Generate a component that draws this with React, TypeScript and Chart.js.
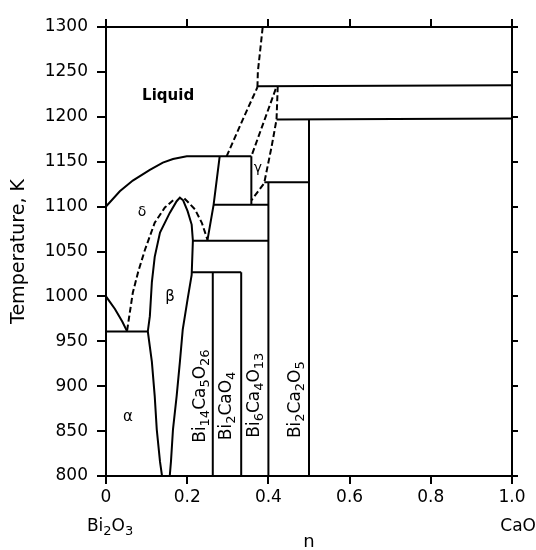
import { useEffect, useRef } from "react";
import { Chart, registerables } from "chart.js";

Chart.register(...registerables);

type P = [number, number];

// Axis ticks
const xTickValues = [0, 0.2, 0.4, 0.6, 0.8, 1.0];
const xTickLabels = ["0", "0.2", "0.4", "0.6", "0.8", "1.0"];
const yTickValues = [800, 850, 900, 950, 1000, 1050, 1100, 1150, 1200, 1250, 1300];

// Phase boundaries (n, T in K)
const liquidusLeft: P[] = [[0, 1100], [0.034, 1117], [0.066, 1129], [0.108, 1141], [0.14, 1149], [0.165, 1153], [0.199, 1156], [0.27, 1156], [0.358, 1156]];
const liquidusRight: P[] = [[0.297, 1156], [0.335, 1195], [0.373, 1233]];
const topBoundary: P[] = [[0.373, 1233], [0.374, 1250], [0.386, 1300]];
const line1234: P[] = [[0.373, 1234], [1.0, 1235]];
const gammaLeft: P[] = [[0.418, 1231], [0.358, 1156]];
const gammaRight: P[] = [[0.423, 1234], [0.42, 1197], [0.408, 1167], [0.39, 1127]];
const gammaLower: P[] = [[0.388, 1125], [0.358, 1107]];
const line1197: P[] = [[0.42, 1197], [1.0, 1198]];
const bi2ca2o5: P[] = [[0.5, 1197], [0.5, 800]];
const line1127: P[] = [[0.39, 1127], [0.5, 1127]];
const bi6ca4o13: P[] = [[0.4, 1127], [0.4, 800]];
const boxLeft: P[] = [[0.25, 1063], [0.265, 1102], [0.28, 1156]];
const boxRight: P[] = [[0.358, 1156], [0.358, 1102]];
const line1102: P[] = [[0.265, 1102], [0.4, 1102]];
const line1062: P[] = [[0.213, 1062], [0.4, 1062]];
const line1027: P[] = [[0.211, 1027], [0.333, 1027]];
const bi14ca5o26: P[] = [[0.263, 1027], [0.263, 800]];
const bi2cao4: P[] = [[0.333, 1027], [0.333, 800]];
const deltaLeft: P[] = [[0.052, 962], [0.066, 1004], [0.079, 1027], [0.096, 1052], [0.12, 1082], [0.145, 1099], [0.17, 1109]];
const deltaRight: P[] = [[0.193, 1109], [0.2, 1106], [0.219, 1097], [0.236, 1082], [0.25, 1063]];
const betaField: P[] = [[0.138, 800], [0.133, 816], [0.125, 852], [0.12, 889], [0.113, 927], [0.103, 961], [0.108, 978], [0.113, 1016], [0.12, 1044], [0.133, 1071], [0.157, 1093], [0.174, 1106], [0.182, 1110], [0.19, 1107], [0.201, 1095], [0.211, 1080], [0.214, 1062], [0.211, 1024], [0.201, 997], [0.189, 963], [0.182, 927], [0.174, 889], [0.165, 852], [0.16, 816], [0.157, 800]];
const alphaDelta: P[] = [[0, 1000], [0.022, 986], [0.04, 972], [0.052, 961]];
const eutectoid: P[] = [[0, 961], [0.103, 961]];

const solidLines: P[][] = [liquidusLeft, line1234, line1197, bi2ca2o5, line1127, bi6ca4o13, boxLeft, boxRight, line1102, line1062, line1027, bi14ca5o26, bi2cao4, betaField, alphaDelta, eutectoid];
const dashedLines: P[][] = [liquidusRight, topBoundary, gammaLeft, gammaRight, gammaLower, deltaLeft, deltaRight];

// Text labels (data coordinates)
const phaseLabels = [
  { text: "Liquid", x: 0.153, y: 1223, font: 'bold 15px "DejaVu Sans"' },
  { text: "δ", x: 0.089, y: 1094, font: '14px "DejaVu Sans"' },
  { text: "β", x: 0.158, y: 999, font: '15px "DejaVu Sans"' },
  { text: "α", x: 0.054, y: 866, font: '15px "DejaVu Sans"' },
  { text: "γ", x: 0.374, y: 1143, font: '14px "DejaVu Sans"' },
];
const compoundLabels = [
  { text: "Bi14Ca5O26", x: 0.232, y: 889 },
  { text: "Bi2CaO4", x: 0.298, y: 878 },
  { text: "Bi6Ca4O13", x: 0.365, y: 890 },
  { text: "Bi2Ca2O5", x: 0.468, y: 885 },
];
const endLabels = [
  { text: "Bi2O3", x: 0.01, y: 744 },
  { text: "CaO", x: 1.015, y: 744 },
];

const MAIN_FONT = '17px "DejaVu Sans"';
const SUB_FONT = '13px "DejaVu Sans"';

function drawFormula(ctx: CanvasRenderingContext2D, text: string, x: number, y: number, rot: number) {
  const parts = text.match(/\d+|[^\d]+/g) || [];
  ctx.save();
  ctx.translate(x, y);
  ctx.rotate(rot);
  ctx.textBaseline = "middle";
  ctx.textAlign = "left";
  let w = 0;
  parts.forEach((p) => {
    ctx.font = /\d/.test(p) ? SUB_FONT : MAIN_FONT;
    w += ctx.measureText(p).width;
  });
  let cx = -w / 2;
  parts.forEach((p) => {
    const sub = /\d/.test(p);
    ctx.font = sub ? SUB_FONT : MAIN_FONT;
    ctx.fillText(p, cx, sub ? 5 : 0);
    cx += ctx.measureText(p).width;
  });
  ctx.restore();
}

const textPlugin = {
  id: "phaseText",
  afterDatasetsDraw(chart: any) {
    const { ctx, scales } = chart;
    const sx = scales.x;
    const sy = scales.y;
    ctx.save();
    ctx.fillStyle = "#000";
    ctx.textAlign = "center";
    ctx.textBaseline = "middle";
    phaseLabels.forEach((l) => {
      ctx.font = l.font;
      ctx.fillText(l.text, sx.getPixelForValue(l.x), sy.getPixelForValue(l.y));
    });
    compoundLabels.forEach((l) => {
      drawFormula(ctx, l.text, sx.getPixelForValue(l.x), sy.getPixelForValue(l.y), -Math.PI / 2);
    });
    endLabels.forEach((l) => {
      drawFormula(ctx, l.text, sx.getPixelForValue(l.x), sy.getPixelForValue(l.y), 0);
    });
    ctx.restore();
  },
};

export default function App() {
  const ref = useRef<HTMLCanvasElement | null>(null);
  useEffect(() => {
    if (!ref.current) return;
    const mk = (arr: P[], dashed: boolean) => ({
      data: arr.map(([x, y]) => ({ x, y })),
      showLine: true,
      borderColor: "#000",
      borderWidth: 2,
      borderDash: dashed ? [6, 3] : [],
      pointRadius: 0,
      fill: false,
      tension: 0,
    });
    const datasets = [
      ...solidLines.map((a) => mk(a, false)),
      ...dashedLines.map((a) => mk(a, true)),
    ];
    const tickFont = { family: "DejaVu Sans", size: 17 };
    const grid = (len: number) => ({
      drawOnChartArea: false,
      drawTicks: true,
      tickLength: len,
      color: "#000",
      lineWidth: 2,
    });
    const border = { display: true, color: "#000", width: 2 };
    const chart = new Chart(ref.current, {
      type: "scatter",
      data: { datasets: datasets as any },
      options: {
        animation: false,
        responsive: false,
        events: [],
        layout: { padding: 0 },
        plugins: { legend: { display: false }, tooltip: { enabled: false } },
        scales: {
          x: {
            type: "linear",
            position: "bottom",
            min: 0,
            max: 1,
            afterBuildTicks: (s: any) => { s.ticks = xTickValues.map((v) => ({ value: v })); },
            afterFit: (s: any) => { s.height = 74; },
            ticks: {
              color: "#000",
              font: tickFont,
              padding: 3,
              maxRotation: 0,
              callback: (v: any) => xTickLabels[xTickValues.findIndex((t) => Math.abs(t - v) < 1e-6)] ?? "",
            },
            grid: grid(8),
            border,
            title: { display: true, text: "n", color: "#000", font: { family: "DejaVu Sans", size: 18 }, padding: { top: 0, bottom: -3 } },
          },
          x2: {
            type: "linear",
            position: "top",
            min: 0,
            max: 1,
            afterBuildTicks: (s: any) => { s.ticks = xTickValues.map((v) => ({ value: v })); },
            afterFit: (s: any) => { s.height = 27; },
            ticks: { display: false },
            grid: grid(8),
            border,
          },
          y: {
            type: "linear",
            position: "left",
            min: 800,
            max: 1300,
            afterBuildTicks: (s: any) => { s.ticks = yTickValues.map((v) => ({ value: v })); },
            afterFit: (s: any) => { s.width = 106; },
            ticks: { color: "#000", font: tickFont, padding: 9, callback: (v: any) => String(v) },
            grid: grid(9),
            border,
            title: { display: true, text: "Temperature, K", color: "#000", font: { family: "DejaVu Sans", size: 19 }, padding: { top: 8, bottom: 0 } },
          },
          y2: {
            type: "linear",
            position: "right",
            min: 800,
            max: 1300,
            afterBuildTicks: (s: any) => { s.ticks = yTickValues.map((v) => ({ value: v })); },
            afterFit: (s: any) => { s.width = 24; },
            ticks: { display: false },
            grid: grid(6),
            border,
          },
        },
      },
      plugins: [textPlugin],
    });
    return () => chart.destroy();
  }, []);
  return (
    <div style={{ position: "absolute", left: 0, top: 0, width: 536, height: 550, background: "#fff" }}>
      <canvas ref={ref} width={536} height={550} />
    </div>
  );
}
